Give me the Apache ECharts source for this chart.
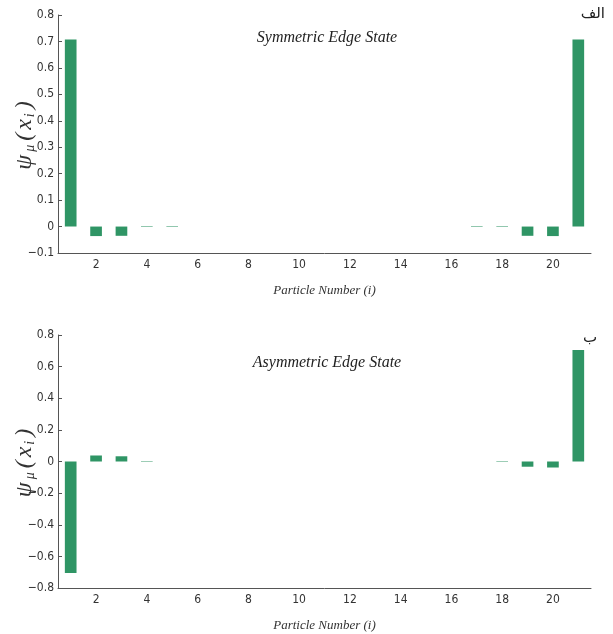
<!DOCTYPE html>
<html>
<head>
<meta charset="utf-8">
<script src="https://cdn.jsdelivr.net/npm/echarts@6/dist/echarts.min.js"></script>
<style>
  html, body { margin: 0; padding: 0; background: #fff; }
  #chart { width: 613px; height: 634px; }
</style>
</head>
<body>
<div id="chart"></div>
<script>
  // particle index 1..21
  var particles = ['1', '2', '3', '4', '5', '6', '7', '8', '9', '10', '11',
    '12', '13', '14', '15', '16', '17', '18', '19', '20', '21']
  var symmetricState = [0.707, -0.036, -0.035, 0.002, 0.002, 0, 0, 0, 0, 0, 0,
    0, 0, 0, 0, 0, 0.002, 0.002, -0.035, -0.036, 0.707]
  var asymmetricState = [-0.705, 0.038, 0.033, -0.003, 0, 0, 0, 0, 0, 0, 0,
    0, 0, 0, 0, 0, 0, 0.003, -0.033, -0.038, 0.705]
  var topTicks = { min: -0.1, max: 0.8, interval: 0.1 }
  var bottomTicks = { min: -0.8, max: 0.8, interval: 0.2 }

  var green = '#2f9565'
  var serif = 'Liberation Serif'
  var sans = '"DejaVu Sans Condensed", "DejaVu Sans", sans-serif'

  function xAxis (gridIndex) {
    return {
      type: 'category',
      gridIndex: gridIndex,
      data: particles,
      boundaryGap: true,
      name: 'Particle Number (i)',
      nameLocation: 'middle',
      nameGap: 31,
      nameMoveOverlap: false,
      nameTextStyle: { fontFamily: serif, fontStyle: 'italic', fontSize: 13, color: '#333' },
      axisLine: { onZero: false, lineStyle: { color: '#555', width: 1 } },
      axisTick: {
        inside: true,
        length: 5,
        interval: function (idx) { return idx % 2 === 0 },
        lineStyle: { color: '#555' }
      },
      axisLabel: {
        interval: function (idx) { return idx % 2 === 1 },
        color: '#333',
        fontSize: 12,
        margin: 6,
        fontFamily: sans
      },
      splitLine: { show: false }
    }
  }

  function yAxis (gridIndex, t) {
    return {
      type: 'value',
      gridIndex: gridIndex,
      min: t.min,
      max: t.max,
      interval: t.interval,
      name: '{psi|ψ}{sub|μ}{psi|(}{x|x}{sub|i}{psi|)}',
      nameLocation: 'middle',
      nameRotate: 90,
      nameGap: 21,
      nameMoveOverlap: false,
      nameTextStyle: {
        rich: {
          psi: { fontFamily: serif, fontStyle: 'italic', fontSize: 24, color: '#333', padding: [0, 3, 0, 0] },
          x: { fontFamily: serif, fontStyle: 'italic', fontSize: 24, color: '#333', padding: [0, 2, 0, 0] },
          sub: { fontFamily: serif, fontStyle: 'italic', fontSize: 14, color: '#333', verticalAlign: 'bottom', padding: [10, 4, 0, 0] }
        }
      },
      axisLine: { show: true, onZero: false, lineStyle: { color: '#555', width: 1 } },
      axisTick: { show: true, inside: true, length: 4, lineStyle: { color: '#555' } },
      axisLabel: {
        color: '#333',
        fontSize: 12,
        margin: 4,
        fontFamily: sans,
        formatter: function (v) {
          var s = String(Math.round(v * 10) / 10)
          return s.replace('-', '\u2212')
        }
      },
      splitLine: { show: false }
    }
  }

  var option = {
    backgroundColor: '#fff',
    animation: false,
    title: [
      {
        text: 'Symmetric Edge State',
        left: 322, top: 25, textAlign: 'center',
        textStyle: { fontFamily: serif, fontStyle: 'italic', fontWeight: 'normal', fontSize: 16, color: '#222' }
      },
      {
        text: 'Asymmetric Edge State',
        left: 322, top: 350, textAlign: 'center',
        textStyle: { fontFamily: serif, fontStyle: 'italic', fontWeight: 'normal', fontSize: 16, color: '#222' }
      }
    ],
    graphic: [
      { type: 'text', right: 8, top: 7, style: { text: 'الف', fontFamily: 'DejaVu Sans', fontSize: 15, fill: '#222' } },
      { type: 'text', right: 16, top: 331, style: { text: 'ب', fontFamily: 'DejaVu Sans', fontSize: 15, fill: '#222' } }
    ],
    grid: [
      { left: 58, top: 15, width: 533, height: 238, outerBoundsMode: 'none', containLabel: false },
      { left: 58, top: 335, width: 533, height: 253, outerBoundsMode: 'none', containLabel: false }
    ],
    xAxis: [xAxis(0), xAxis(1)],
    yAxis: [yAxis(0, topTicks), yAxis(1, bottomTicks)],
    series: [
      {
        type: 'bar',
        xAxisIndex: 0,
        yAxisIndex: 0,
        barWidth: '46%',
        itemStyle: { color: green },
        data: symmetricState
      },
      {
        type: 'bar',
        xAxisIndex: 1,
        yAxisIndex: 1,
        barWidth: '46%',
        itemStyle: { color: green },
        data: asymmetricState
      }
    ]
  }

  var chart = echarts.init(document.getElementById('chart'))
  chart.setOption(option)
</script>
</body>
</html>
